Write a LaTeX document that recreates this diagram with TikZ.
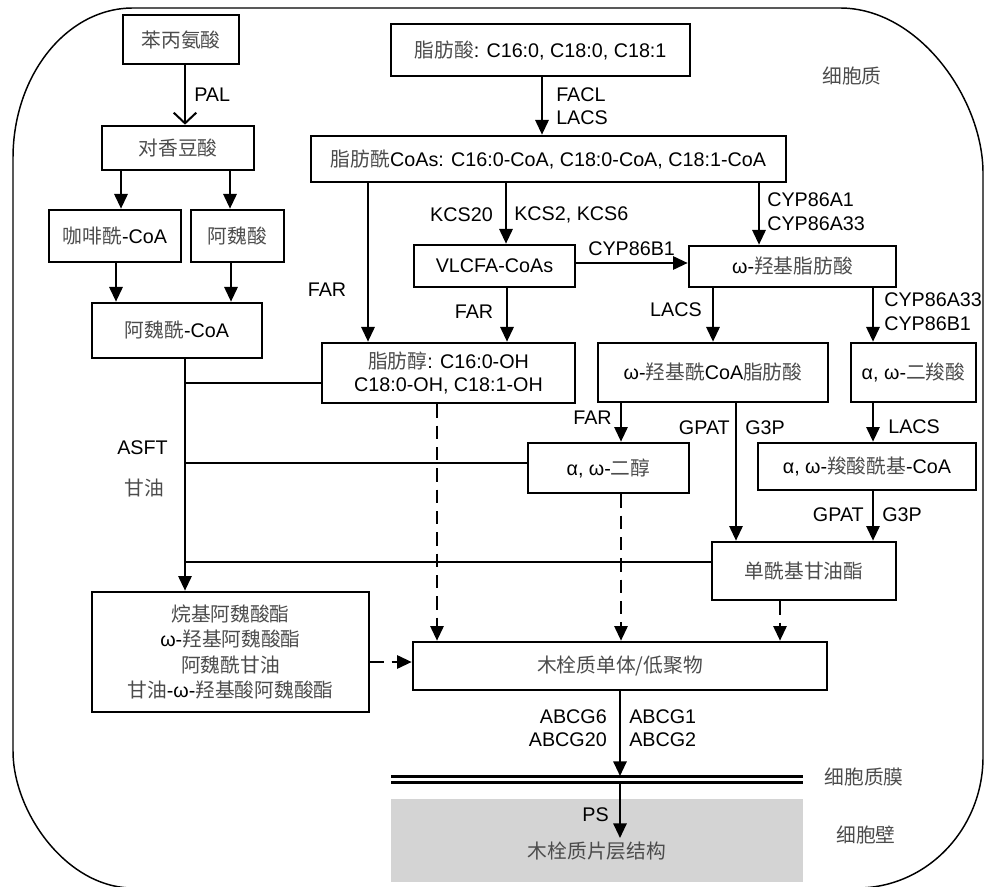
\documentclass[tikz,border=0pt]{standalone}
\usepackage{fontspec}
\setmainfont{Liberation Sans}
\newfontfamily\cjkfont{Noto Sans CJK SC}
\usetikzlibrary{arrows.meta}
\definecolor{cjkgray}{gray}{0.3}
\definecolor{wallgray}{gray}{0.83}
\newcommand\zh[1]{{\cjkfont\color{cjkgray}#1}}
\newcommand\fsz{\fontsize{14.8}{19}\selectfont}
\tikzset{
  box/.style={draw, line width=2pt, inner sep=0pt, align=center, font=\fsz},
  at box/.style args={#1/#2/#3/#4}{minimum width={(#3-#1)*0.75pt}, minimum height={(#4-#2)*0.75pt}, at={({(#1+#3)/2},{(#2+#4)/2})}},
  lab/.style={inner sep=0pt, font=\fsz},
  ln/.style={line width=1.5pt},
  arr/.style={line width=1.5pt, -{Triangle[length=11pt,width=10pt]}},
  darr/.style={arr, dash pattern=on 10pt off 6pt},
  openarr/.style={line width=1.5pt, -{Straight Barb[length=8pt,width=17pt,line width=1.5pt]}},
}
\begin{document}
\begin{tikzpicture}[x=0.75pt,y=-0.75pt]
\useasboundingbox (0,0) rectangle (984,887);
\clip (0,0) rectangle (984,887);
% outer cell boundary
\draw[line width=1.1pt] (13,158) .. controls (13,75.2) and (66.7,8) .. (133,8)
  -- (840,8) .. controls (919,8) and (983,99.1) .. (983,173)
  -- (983,757) .. controls (983,829.3) and (926.6,888) .. (857,888)
  -- (133,888) .. controls (66.7,888) and (13,812.3) .. (13,751) -- cycle;
% cell wall
\fill[wallgray] (391,799) rectangle (803,882);
% membrane
\draw[line width=1.7pt] (391,776.5) -- (803,776.5);
\draw[line width=1.7pt] (391,782.5) -- (803,782.5);

% boxes
\node[box, at box=123/15/239/64] (n1) {\zh{苯丙氨酸}};
\node[box, at box=102/126/254/170] (n2) {\zh{对香豆酸}};
\node[box, at box=49/210/181/262] (n3) {\zh{咖啡酰}-CoA};
\node[box, at box=191/210/284/262] (n4) {\zh{阿魏酸}};
\node[box, at box=92/303/262/358] (n5) {\zh{阿魏酰}-CoA};
\node[box, at box=92/592/369/712] (n6) {\zh{烷基阿魏酸酯}\\ω-\zh{羟基阿魏酸酯}\\\zh{阿魏酰甘油}\\\zh{甘油}-ω-\zh{羟基酸阿魏酸酯}};
\node[box, at box=391/24/690/76] (fa) {\zh{脂肪酸}: C16:0, C18:0, C18:1};
\node[box, at box=311/136/786/182] (fc) {\zh{脂肪酰}CoAs: C16:0-CoA, C18:0-CoA, C18:1-CoA};
\node[box, at box=414/245/575/287] (vl) {VLCFA-CoAs};
\node[box, at box=322/343/575/403] (fal) {\zh{脂肪醇}: C16:0-OH\\[-1.5pt]C18:0-OH, C18:1-OH};
\node[box, at box=689/246/896/287] (wh) {ω-\zh{羟基脂肪酸}};
\node[box, at box=598/343/828/402] (whc) {ω-\zh{羟基酰}CoA\zh{脂肪酸}};
\node[box, at box=851/343/976/402] (dca) {α, ω-\zh{二羧酸}};
\node[box, at box=528/443/689/493] (diol) {α, ω-\zh{二醇}};
\node[box, at box=758/443/976/490] (dcc) {α, ω-\zh{羧酸酰基}-CoA};
\node[box, at box=712/542/896/600] (mag) {\zh{单酰基甘油酯}};
\node[box, at box=413/642/827/690] (sub) {\zh{木栓质单体/低聚物}};

% left pathway
\draw[openarr] (n1.south -| 185,0) -- (n2.north -| 185,0);
\draw[arr] (n2.south -| 121,0) -- (n3.north -| 121,0);
\draw[arr] (n2.south -| 230,0) -- (n4.north -| 230,0);
\draw[arr] (n3.south -| 116,0) -- (n5.north -| 116,0);
\draw[arr] (n4.south -| 231,0) -- (n5.north -| 231,0);
\draw[arr] (n5.south -| 185,0) -- (n6.north -| 185,0);
\coordinate (j1) at (185,383);
\coordinate (j2) at (185,463);
\coordinate (j3) at (185,562);
\draw[ln] (j1) -- (fal.west |- j1);
\draw[ln] (j2) -- (diol.west |- j2);
\draw[ln] (j3) -- (mag.west |- j3);

% fatty acid pathway
\draw[arr] (fa.south -| 542,0) -- (fc.north -| 542,0);
\draw[arr] (fc.south -| 368,0) -- (fal.north -| 368,0);
\draw[arr] (fc.south -| 506,0) -- (vl.north -| 506,0);
\draw[arr] (vl.east |- 0,263) -- (wh.west |- 0,263);
\draw[arr] (vl.south -| 507,0) -- (fal.north -| 507,0);
\draw[arr] (fc.south -| 759,0) -- (wh.north -| 759,0);
\draw[arr] (wh.south -| 713,0) -- (whc.north -| 713,0);
\draw[arr] (wh.south -| 873,0) -- (dca.north -| 873,0);
\draw[arr] (dca.south -| 873,0) -- (dcc.north -| 873,0);
\draw[arr] (whc.south -| 621,0) -- (diol.north -| 621,0);
\draw[arr] (whc.south -| 736,0) -- (mag.north -| 736,0);
\draw[arr] (dcc.south -| 873,0) -- (mag.north -| 873,0);

% dashed to suberin monomers
\draw[darr] (fal.south -| 437,0) -- (sub.north -| 437,0);
\draw[darr] (diol.south -| 621,0) -- (sub.north -| 621,0);
\draw[darr] (mag.south -| 780,0) -- (sub.north -| 780,0);
\draw[darr] (n6.east |- 0,662) -- (sub.west |- 0,662);

% export
\coordinate (m1) at (620,776);
\coordinate (m2) at (620,783);
\coordinate (ps) at (620,838);
\draw[arr] (sub.south -| m1) -- (m1);
\draw[arr] (m2) -- (ps);

% labels
\node[lab, anchor=west] (lpal) at (194,95) {PAL};
\node[lab, anchor=west] (lfacl) at (556,95) {FACL};
\node[lab, anchor=west] (llacs1) at (556,118) {LACS};
\node[lab, anchor=east] (lkcs20) at (493,215) {KCS20};
\node[lab, anchor=west] (lkcs) at (514,215) {KCS2, KCS6};
\node[lab, anchor=west] (lcypb) at (588,249) {CYP86B1};
\node[lab] (lfar1) at (327,290) {FAR};
\node[lab] (lfar2) at (474,312) {FAR};
\node[lab, anchor=west] (lcypa1) at (767,200) {CYP86A1};
\node[lab, anchor=west] (lcypa33) at (767,224) {CYP86A33};
\node[lab, anchor=east] (llacs2) at (702,310) {LACS};
\node[lab, anchor=west] (lcypa33b) at (884,300) {CYP86A33};
\node[lab, anchor=west] (lcypb1b) at (884,324) {CYP86B1};
\node[lab, anchor=east] (lfar3) at (612,418) {FAR};
\node[lab, anchor=east] (lgpat1) at (730,428) {GPAT};
\node[lab, anchor=west] (lg3p1) at (745,428) {G3P};
\node[lab, anchor=west] (llacs3) at (888,427) {LACS};
\node[lab, anchor=east] (lgpat2) at (864,515) {GPAT};
\node[lab, anchor=west] (lg3p2) at (882,515) {G3P};
\node[lab, anchor=east] (lasft) at (168,448) {ASFT};
\node[lab] (lgly) at (144,488) {\zh{甘油}};
\node[lab, anchor=east] (labcg6) at (607,717) {ABCG6};
\node[lab, anchor=east] (labcg20) at (607,740) {ABCG20};
\node[lab, anchor=west] (labcg1) at (629,717) {ABCG1};
\node[lab, anchor=west] (labcg2) at (629,740) {ABCG2};
\node[lab, anchor=east] (lps) at (609,815) {PS};
\node[lab] (llam) at (597,851) {\zh{木栓质片层结构}};
\node[lab] (lcyto) at (852,76) {\zh{细胞质}};
\node[lab] (lmem) at (864,777) {\zh{细胞质膜}};
\node[lab] (lwall) at (866,835) {\zh{细胞壁}};
\end{tikzpicture}
\end{document}
